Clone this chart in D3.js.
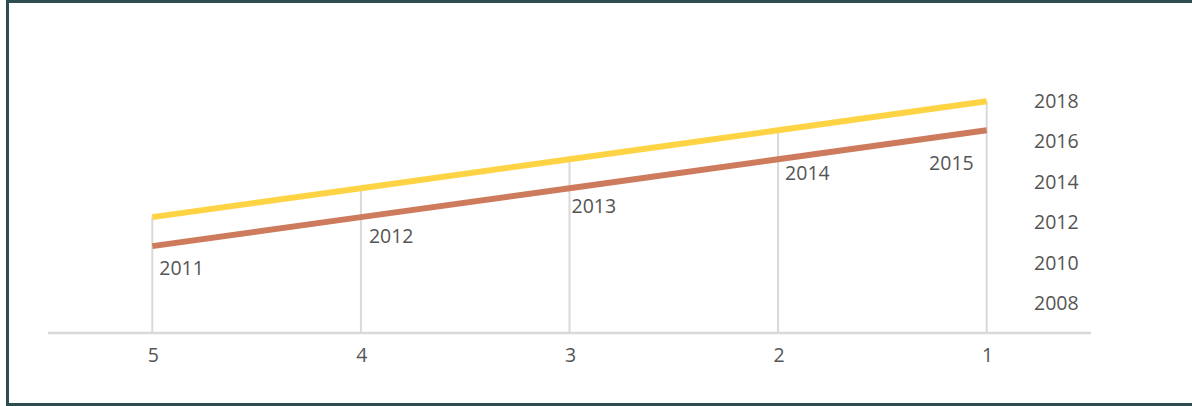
<!DOCTYPE html>
<html>
<head>
<meta charset="utf-8">
<script src="https://cdn.jsdelivr.net/npm/d3@7"></script>
<style>
  html, body { margin: 0; padding: 0; background: #fff; }
  svg { display: block; }
  text { font-family: "Open Sans", "Noto Sans", sans-serif; fill: #555555; }
</style>
</head>
<body>
<svg id="chart" width="1192" height="406"></svg>
<script>
// Categories run right-to-left: 5, 4, 3, 2, 1
const categories = ["5", "4", "3", "2", "1"];
const seriesUpper = [2012, 2013, 2014, 2015, 2016];
const seriesLower = [2011, 2012, 2013, 2014, 2015];
const rightTicks = [2008, 2010, 2012, 2014, 2016, 2018];

const W = 1192, H = 406;
const FONT = 19.5;
const svg = d3.select("#chart");

// Frame (left, top and bottom edges)
const frame = svg.append("g").attr("stroke", "#2e4d4f").attr("stroke-width", 3);
frame.append("line").attr("x1", 7.5).attr("x2", 7.5).attr("y1", 0).attr("y2", H);
frame.append("line").attr("x1", 6).attr("x2", W).attr("y1", 1.5).attr("y2", 1.5);
frame.append("line").attr("x1", 6).attr("x2", W).attr("y1", H - 1.5).attr("y2", H - 1.5);

const plot = { left: 48, right: 1091, top: 101.3, bottom: 333 };

const x = d3.scaleBand().domain(categories).range([plot.left, plot.right]);
const cx = c => x(c) + x.bandwidth() / 2;

// Value scale used by both lines
const y = d3.scaleLinear().domain([2008, 2016]).range([plot.bottom, plot.top]);
// Right-hand value axis labels
const yRight = d3.scaleLinear().domain([2008, 2018]).range([303.3, 101]);

// Drop lines from the highest point in each category down to the axis
svg.append("g").selectAll("line")
  .data(categories)
  .join("line")
  .attr("x1", c => cx(c)).attr("x2", c => cx(c))
  .attr("y1", (c, i) => y(Math.max(seriesUpper[i], seriesLower[i])))
  .attr("y2", plot.bottom)
  .attr("stroke", "#d9d9d9").attr("stroke-width", 2);

// Category axis line
svg.append("line")
  .attr("x1", plot.left).attr("x2", plot.right)
  .attr("y1", plot.bottom).attr("y2", plot.bottom)
  .attr("stroke", "#d9d9d9").attr("stroke-width", 2.5);

// Category labels
svg.append("g").selectAll("text")
  .data(categories)
  .join("text")
  .attr("x", c => cx(c) + 1)
  .attr("y", 355)
  .attr("dy", "0.35em")
  .attr("text-anchor", "middle")
  .attr("font-size", FONT)
  .text(c => c);

// Right axis labels
svg.append("g").selectAll("text")
  .data(rightTicks)
  .join("text")
  .attr("x", 1034)
  .attr("y", d => yRight(d))
  .attr("dy", "0.35em")
  .attr("font-size", FONT)
  .text(d => d);

const line = d3.line().x((d, i) => cx(categories[i])).y(d => y(d));

svg.append("path")
  .datum(seriesUpper)
  .attr("d", line)
  .attr("fill", "none")
  .attr("stroke", "#ffd444")
  .attr("stroke-width", 6);

svg.append("path")
  .datum(seriesLower)
  .attr("d", line)
  .attr("fill", "none")
  .attr("stroke", "#cd7b5c")
  .attr("stroke-width", 6);

// Data labels for the lower series, nudged clear of the lines
const labelNudge = [
  { dx: 7, dy: 22, anchor: "start" },
  { dx: 8, dy: 19.5, anchor: "start" },
  { dx: 2, dy: 18, anchor: "start" },
  { dx: 7, dy: 14, anchor: "start" },
  { dx: -13, dy: 32.5, anchor: "end" }
];
svg.append("g").selectAll("text")
  .data(seriesLower)
  .join("text")
  .attr("x", (d, i) => cx(categories[i]) + labelNudge[i].dx)
  .attr("y", (d, i) => y(d) + labelNudge[i].dy)
  .attr("dy", "0.35em")
  .attr("text-anchor", (d, i) => labelNudge[i].anchor)
  .attr("font-size", FONT)
  .text(d => d);
</script>
</body>
</html>
